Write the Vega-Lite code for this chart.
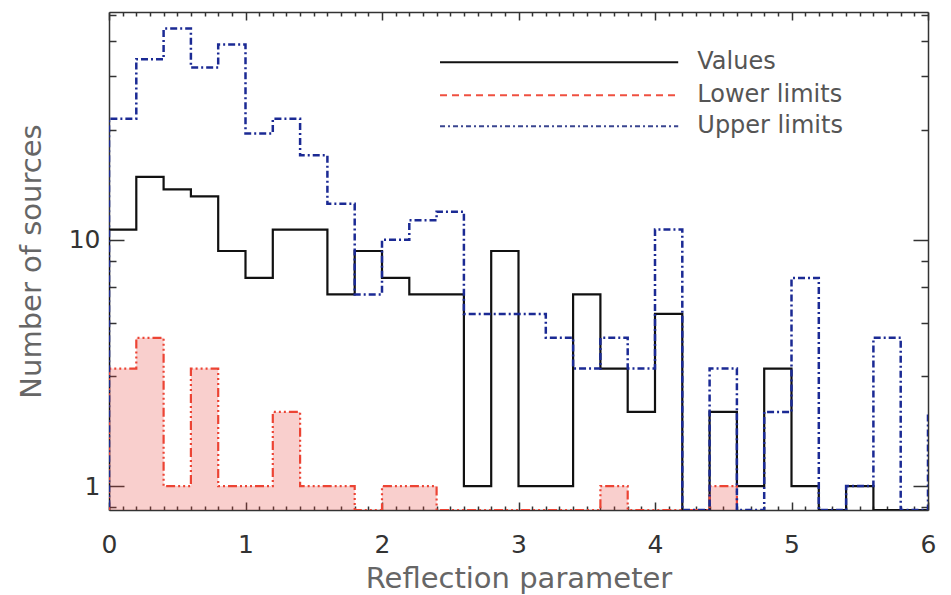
{
  "$schema": "https://vega.github.io/schema/vega-lite/v6.json",
  "width": 819,
  "height": 498,
  "autosize": {"type": "none"},
  "padding": {"left": 109, "top": 12, "right": 23, "bottom": 85},
  "background": "white",
  "config": {
    "font": "DejaVu Sans",
    "view": {"stroke": null},
    "axis": {
      "zindex": 1,
      "grid": false,
      "domainColor": "#333333",
      "domainWidth": 1.5,
      "tickColor": "#333333",
      "tickWidth": 1.5,
      "labelFont": "DejaVu Sans",
      "titleFont": "DejaVu Sans",
      "labelColor": "#333333",
      "titleColor": "#666666",
      "titleFontWeight": "normal",
      "labelFlush": false,
      "labelOverlap": false
    }
  },
  "datasets": {
    "hist": [
      {"series": "Values", "r": -0.2, "n": 0},
      {"series": "Values", "r": 0.0, "n": 11},
      {"series": "Values", "r": 0.2, "n": 18},
      {"series": "Values", "r": 0.4, "n": 16},
      {"series": "Values", "r": 0.6, "n": 15},
      {"series": "Values", "r": 0.8, "n": 9},
      {"series": "Values", "r": 1.0, "n": 7},
      {"series": "Values", "r": 1.2, "n": 11},
      {"series": "Values", "r": 1.4, "n": 11},
      {"series": "Values", "r": 1.6, "n": 6},
      {"series": "Values", "r": 1.8, "n": 9},
      {"series": "Values", "r": 2.0, "n": 7},
      {"series": "Values", "r": 2.2, "n": 6},
      {"series": "Values", "r": 2.4, "n": 6},
      {"series": "Values", "r": 2.6, "n": 1},
      {"series": "Values", "r": 2.8, "n": 9},
      {"series": "Values", "r": 3.0, "n": 1},
      {"series": "Values", "r": 3.2, "n": 1},
      {"series": "Values", "r": 3.4, "n": 6},
      {"series": "Values", "r": 3.6, "n": 3},
      {"series": "Values", "r": 3.8, "n": 2},
      {"series": "Values", "r": 4.0, "n": 5},
      {"series": "Values", "r": 4.2, "n": 0},
      {"series": "Values", "r": 4.4, "n": 2},
      {"series": "Values", "r": 4.6, "n": 1},
      {"series": "Values", "r": 4.8, "n": 3},
      {"series": "Values", "r": 5.0, "n": 1},
      {"series": "Values", "r": 5.2, "n": 0},
      {"series": "Values", "r": 5.4, "n": 1},
      {"series": "Values", "r": 5.6, "n": 0},
      {"series": "Values", "r": 6.2, "n": 0},
      {"series": "Lower limits", "r": -0.2, "n": 0},
      {"series": "Lower limits", "r": 0.0, "n": 3},
      {"series": "Lower limits", "r": 0.2, "n": 4},
      {"series": "Lower limits", "r": 0.4, "n": 1},
      {"series": "Lower limits", "r": 0.6, "n": 3},
      {"series": "Lower limits", "r": 0.8, "n": 1},
      {"series": "Lower limits", "r": 1.0, "n": 1},
      {"series": "Lower limits", "r": 1.2, "n": 2},
      {"series": "Lower limits", "r": 1.4, "n": 1},
      {"series": "Lower limits", "r": 1.6, "n": 1},
      {"series": "Lower limits", "r": 1.8, "n": 0},
      {"series": "Lower limits", "r": 2.0, "n": 1},
      {"series": "Lower limits", "r": 2.2, "n": 1},
      {"series": "Lower limits", "r": 2.4, "n": 0},
      {"series": "Lower limits", "r": 3.6, "n": 1},
      {"series": "Lower limits", "r": 3.8, "n": 0},
      {"series": "Lower limits", "r": 4.4, "n": 1},
      {"series": "Lower limits", "r": 4.6, "n": 0},
      {"series": "Upper limits", "r": -0.2, "n": 0},
      {"series": "Upper limits", "r": 0.0, "n": 31},
      {"series": "Upper limits", "r": 0.2, "n": 54},
      {"series": "Upper limits", "r": 0.4, "n": 72},
      {"series": "Upper limits", "r": 0.6, "n": 50},
      {"series": "Upper limits", "r": 0.8, "n": 62},
      {"series": "Upper limits", "r": 1.0, "n": 27},
      {"series": "Upper limits", "r": 1.2, "n": 31},
      {"series": "Upper limits", "r": 1.4, "n": 22},
      {"series": "Upper limits", "r": 1.6, "n": 14},
      {"series": "Upper limits", "r": 1.8, "n": 6},
      {"series": "Upper limits", "r": 2.0, "n": 10},
      {"series": "Upper limits", "r": 2.2, "n": 12},
      {"series": "Upper limits", "r": 2.4, "n": 13},
      {"series": "Upper limits", "r": 2.6, "n": 5},
      {"series": "Upper limits", "r": 2.8, "n": 5},
      {"series": "Upper limits", "r": 3.0, "n": 5},
      {"series": "Upper limits", "r": 3.2, "n": 4},
      {"series": "Upper limits", "r": 3.4, "n": 3},
      {"series": "Upper limits", "r": 3.6, "n": 4},
      {"series": "Upper limits", "r": 3.8, "n": 3},
      {"series": "Upper limits", "r": 4.0, "n": 11},
      {"series": "Upper limits", "r": 4.2, "n": 0},
      {"series": "Upper limits", "r": 4.4, "n": 3},
      {"series": "Upper limits", "r": 4.6, "n": 0},
      {"series": "Upper limits", "r": 4.8, "n": 2},
      {"series": "Upper limits", "r": 5.0, "n": 7},
      {"series": "Upper limits", "r": 5.2, "n": 0},
      {"series": "Upper limits", "r": 5.4, "n": 1},
      {"series": "Upper limits", "r": 5.6, "n": 4},
      {"series": "Upper limits", "r": 5.8, "n": 0},
      {"series": "Upper limits", "r": 6.0, "n": 2},
      {"series": "Upper limits", "r": 6.2, "n": 0}
    ]
  },
  "data": {"name": "hist"},
  "resolve": {"axis": {"x": "independent", "y": "independent"}},
  "layer": [
    {
      "transform": [{"filter": "datum.series === 'Lower limits'"}],
      "mark": {"type": "area", "interpolate": "step-after", "color": "#e8453c", "fillOpacity": 0.26, "clip": true, "invalid": null},
      "encoding": {
        "x": {
          "field": "r", "type": "quantitative",
          "scale": {"domain": [0, 6], "nice": false, "zero": false},
          "axis": {
            "orient": "bottom", "values": [0, 1, 2, 3, 4, 5, 6], "format": "d",
            "tickSize": -8, "labelPadding": 30, "labelFontSize": 25,
            "title": "Reflection parameter", "titleFontSize": 29, "titlePadding": 7
          }
        },
        "y": {
          "field": "n", "type": "quantitative",
          "scale": {"type": "log", "domain": [0.8, 84], "nice": false, "clamp": true},
          "axis": {
            "orient": "left", "values": [1, 10], "format": "d",
            "tickSize": -15, "labelPadding": 24, "labelFontSize": 25,
            "title": "Number of sources", "titleFontSize": 29, "titlePadding": 22
          }
        },
        "y2": {"datum": 0.8}
      }
    },
    {
      "transform": [{"filter": "datum.series === 'Values'"}],
      "mark": {"type": "line", "interpolate": "step-after", "color": "#111111", "strokeWidth": 2.2, "clip": true, "invalid": null},
      "encoding": {
        "x": {
          "field": "r", "type": "quantitative",
          "scale": {"domain": [0, 6], "nice": false, "zero": false},
          "axis": {
            "orient": "bottom", "domain": false, "labels": false, "title": null, "tickSize": -4,
            "values": [0.1, 0.2, 0.3, 0.4, 0.5, 0.6, 0.7, 0.8, 0.9, 1.1, 1.2, 1.3, 1.4, 1.5, 1.6, 1.7, 1.8, 1.9, 2.1, 2.2, 2.3, 2.4, 2.5, 2.6, 2.7, 2.8, 2.9, 3.1, 3.2, 3.3, 3.4, 3.5, 3.6, 3.7, 3.8, 3.9, 4.1, 4.2, 4.3, 4.4, 4.5, 4.6, 4.7, 4.8, 4.9, 5.1, 5.2, 5.3, 5.4, 5.5, 5.6, 5.7, 5.8, 5.9]
          }
        },
        "y": {
          "field": "n", "type": "quantitative",
          "scale": {"type": "log", "domain": [0.8, 84], "nice": false, "clamp": true},
          "axis": {
            "orient": "left", "domain": false, "labels": false, "title": null, "tickSize": -7,
            "values": [0.82, 2.8, 4.6, 6.4, 8.2, 28, 46, 64, 82]
          }
        }
      }
    },
    {
      "transform": [{"filter": "datum.series === 'Lower limits'"}],
      "mark": {"type": "line", "interpolate": "step-after", "color": "#ec4434", "strokeWidth": 2.2, "strokeDash": [9, 3, 2, 3, 2, 3, 2, 3], "clip": true, "invalid": null},
      "encoding": {
        "x": {
          "field": "r", "type": "quantitative",
          "scale": {"domain": [0, 6], "nice": false, "zero": false},
          "axis": {"orient": "top", "labels": false, "title": null, "tickSize": -8, "values": [0, 1, 2, 3, 4, 5, 6]}
        },
        "y": {
          "field": "n", "type": "quantitative",
          "scale": {"type": "log", "domain": [0.8, 84], "nice": false, "clamp": true},
          "axis": {"orient": "right", "labels": false, "title": null, "tickSize": -15, "values": [1, 10]}
        }
      }
    },
    {
      "transform": [{"filter": "datum.series === 'Upper limits'"}],
      "mark": {"type": "line", "interpolate": "step-after", "color": "#1b2a94", "strokeWidth": 2.5, "strokeDash": [7, 3, 2, 3], "clip": true, "invalid": null},
      "encoding": {
        "x": {
          "field": "r", "type": "quantitative",
          "scale": {"domain": [0, 6], "nice": false, "zero": false},
          "axis": {
            "orient": "top", "domain": false, "labels": false, "title": null, "tickSize": -4,
            "values": [0.1, 0.2, 0.3, 0.4, 0.5, 0.6, 0.7, 0.8, 0.9, 1.1, 1.2, 1.3, 1.4, 1.5, 1.6, 1.7, 1.8, 1.9, 2.1, 2.2, 2.3, 2.4, 2.5, 2.6, 2.7, 2.8, 2.9, 3.1, 3.2, 3.3, 3.4, 3.5, 3.6, 3.7, 3.8, 3.9, 4.1, 4.2, 4.3, 4.4, 4.5, 4.6, 4.7, 4.8, 4.9, 5.1, 5.2, 5.3, 5.4, 5.5, 5.6, 5.7, 5.8, 5.9]
          }
        },
        "y": {
          "field": "n", "type": "quantitative",
          "scale": {"type": "log", "domain": [0.8, 84], "nice": false, "clamp": true},
          "axis": {
            "orient": "right", "domain": false, "labels": false, "title": null, "tickSize": -7,
            "values": [0.82, 2.8, 4.6, 6.4, 8.2, 28, 46, 64, 82]
          }
        }
      }
    },
    {
      "data": {"values": [{}]},
      "mark": {"type": "rule", "color": "#111111", "strokeWidth": 2},
      "encoding": {
        "x": {"datum": 2.425, "type": "quantitative", "axis": null},
        "x2": {"datum": 4.17},
        "y": {"datum": 52.5, "type": "quantitative", "axis": null}
      }
    },
    {
      "data": {"values": [{}]},
      "mark": {"type": "rule", "color": "#ef5040", "strokeWidth": 2, "strokeDash": [7, 5]},
      "encoding": {
        "x": {"datum": 2.425, "type": "quantitative", "axis": null},
        "x2": {"datum": 4.17},
        "y": {"datum": 38.6, "type": "quantitative", "axis": null}
      }
    },
    {
      "data": {"values": [{}]},
      "mark": {"type": "rule", "color": "#3a4590", "strokeWidth": 2, "strokeDash": [5, 3, 2, 3]},
      "encoding": {
        "x": {"datum": 2.425, "type": "quantitative", "axis": null},
        "x2": {"datum": 4.17},
        "y": {"datum": 28.9, "type": "quantitative", "axis": null}
      }
    },
    {
      "data": {"values": [{"label": "Values", "n": 52.5}, {"label": "Lower limits", "n": 38.6}, {"label": "Upper limits", "n": 28.9}]},
      "mark": {"type": "text", "align": "left", "baseline": "middle", "fontSize": 24, "color": "#555555", "font": "DejaVu Sans"},
      "encoding": {
        "x": {"datum": 4.31, "type": "quantitative", "axis": null},
        "y": {"field": "n", "type": "quantitative", "axis": null},
        "text": {"field": "label"}
      }
    }
  ]
}
